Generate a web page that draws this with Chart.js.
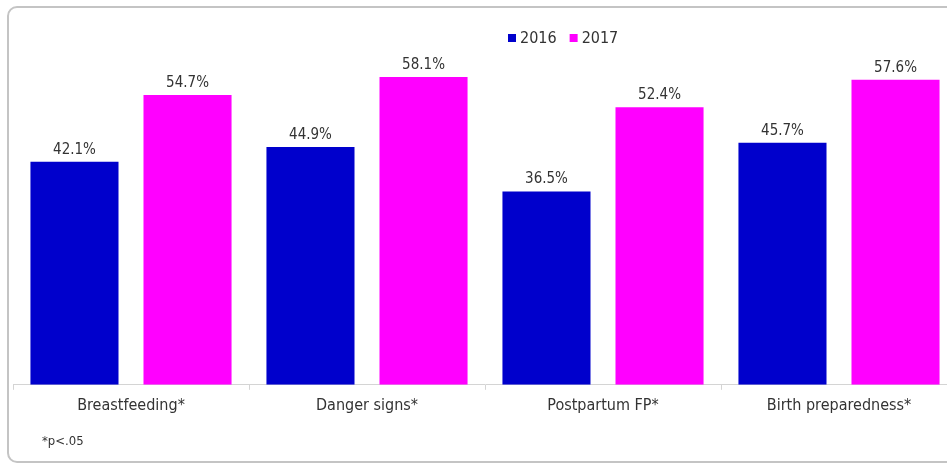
<!DOCTYPE html>
<html>
<head>
<meta charset="utf-8">
<script src="https://cdn.jsdelivr.net/npm/chart.js@4.4.1/dist/chart.umd.min.js"></script>
<style>
    html, body { margin: 0; padding: 0; background: #fff; width: 947px; height: 466px; overflow: hidden; }
    #chart { position: absolute; left: 0; top: 0; }
    .note { position: absolute; left: 42px; top: 433px; font: 13px 'DejaVu Sans Condensed', 'DejaVu Sans', sans-serif; color: #333; }
</style>
</head>
<body>
<canvas id="chart" width="980" height="466"></canvas>
<div class="note">*p&lt;.05</div>
<script>
const categories = ["Breastfeeding*", "Danger signs*", "Postpartum FP*", "Birth preparedness*"];
const seriesNames = ["2016", "2017"];
const values2016 = [42.1, 44.9, 36.5, 45.7];
const values2017 = [54.7, 58.1, 52.4, 57.6];
const seriesColors = ["#0000CC", "#FF00FF"];

const FONT = "'DejaVu Sans Condensed', 'DejaVu Sans', sans-serif";
const TEXT = "#333333";
const AXIS = "#d4d4d4";

// rounded panel outline; its right edge runs off the canvas
const panelFrame = {
    id: "panelFrame",
    beforeDraw(chart) {
        const ctx = chart.ctx;
        ctx.save();
        ctx.strokeStyle = "#c4c4c4";
        ctx.lineWidth = 2;
        ctx.beginPath();
        ctx.roundRect(8, 7, 1000, 455, 9);
        ctx.stroke();
        ctx.restore();
    }
};

// percentage labels sitting just above each bar
const valueLabels = {
    id: "valueLabels",
    afterDatasetsDraw(chart) {
        const ctx = chart.ctx;
        ctx.save();
        ctx.font = "15px " + FONT;
        ctx.fillStyle = TEXT;
        ctx.textAlign = "center";
        ctx.textBaseline = "alphabetic";
        chart.data.datasets.forEach((ds, i) => {
            chart.getDatasetMeta(i).data.forEach((bar, j) => {
                ctx.fillText(ds.data[j].toFixed(1) + "%", bar.x, bar.y - 8);
            });
        });
        ctx.restore();
    }
};

// small legend row above the bars
const topLegend = {
    id: "topLegend",
    afterDraw(chart) {
        const ctx = chart.ctx;
        const y = 38;
        let x = 508;
        ctx.save();
        ctx.font = "16px " + FONT;
        ctx.textBaseline = "middle";
        chart.data.datasets.forEach((ds) => {
            ctx.fillStyle = ds.backgroundColor;
            ctx.fillRect(x, y - 4, 8, 8);
            ctx.fillStyle = TEXT;
            ctx.fillText(ds.label, x + 12, y + 1);
            x += 12 + ctx.measureText(ds.label).width + 13;
        });
        ctx.restore();
    }
};

const datasets = [values2016, values2017].map((values, i) => ({
    label: seriesNames[i],
    data: values,
    backgroundColor: seriesColors[i],
    borderWidth: 0,
    categoryPercentage: 0.958,
    barPercentage: 0.779
}));

new Chart(document.getElementById("chart").getContext("2d"), {
    type: "bar",
    data: { labels: categories, datasets: datasets },
    options: {
        responsive: false,
        animation: false,
        layout: { padding: { left: 13, right: 23, top: 67, bottom: 45 } },
        plugins: {
            legend: { display: false },
            tooltip: { enabled: false }
        },
        scales: {
            x: {
                grid: { offset: true, drawOnChartArea: false, drawTicks: true, tickLength: 5, color: AXIS },
                border: { color: AXIS, width: 1 },
                ticks: { color: TEXT, font: { family: FONT, size: 16 }, padding: 6, maxRotation: 0 }
            },
            y: {
                display: false,
                min: 0,
                max: 60
            }
        }
    },
    plugins: [panelFrame, valueLabels, topLegend]
});
</script>
</body>
</html>
